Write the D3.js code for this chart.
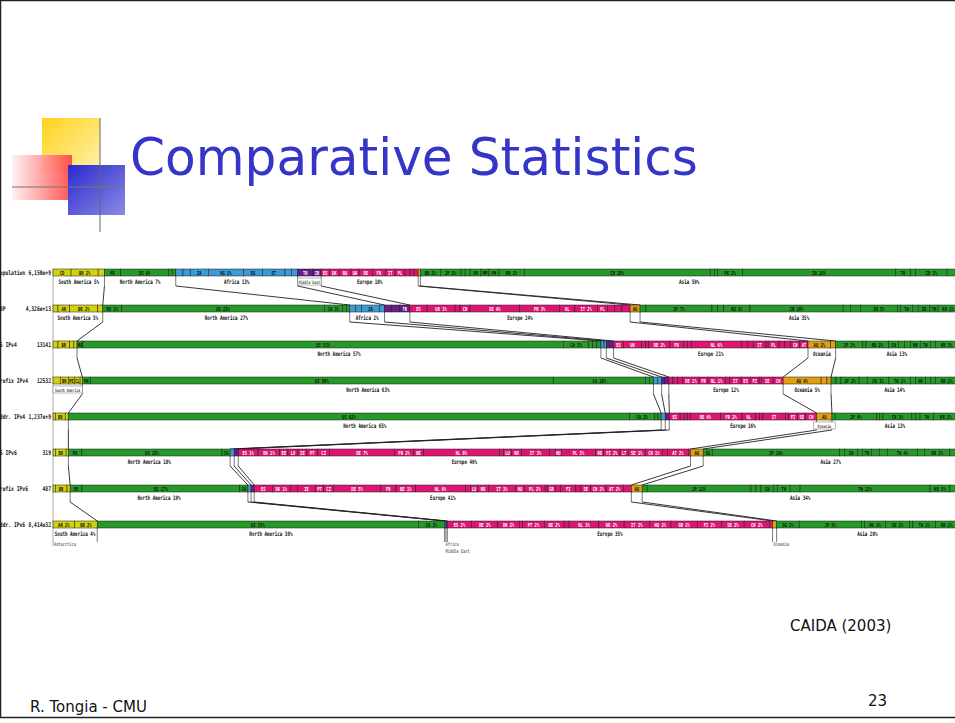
<!DOCTYPE html>
<html><head><meta charset="utf-8">
<script src="https://cdn.jsdelivr.net/npm/d3@7"></script>
<style>body{margin:0;background:#fff;overflow:hidden}</style>
</head><body>
<script>
var rowNames = ['Population', 'GDP', 'AS IPv4', 'Prefix IPv4', 'Addr. IPv4', 'AS IPv6', 'Prefix IPv6', 'Addr. IPv6'];
var rowTotals = ['6,150e+9', '4,326e+13', '13141', '12532', '1,237e+9', '319', '487', '8,414e32'];

var regionOrder = ['SA', 'NA', 'AF', 'ME', 'EU', 'OC', 'AS'];
var regionColors = {SA: '#d2d20c', NA: '#269a28', AF: '#3b9bd3', ME: '#6a1b8a', EU: '#de1673', OC: '#e0a010', AS: '#269a28'};

// [country label, share %, region]
var popSegs = [
  ['CO',2.0,'SA'],['BR 2%',3.0,'SA'],['',0.7,'SA'],
  ['MX',1.8,'NA'],['US 4%',5.3,'NA'],['',0.4,'NA'],['',0.4,'NA'],
  ['',0.8,'AF'],['',0.8,'AF'],['ZA',2.0,'AF'],['NG 2%',3.9,'AF'],['EG',2.1,'AF'],['ET',2.5,'AF'],['',0.7,'AF'],['',0.7,'AF'],
  ['TR',1.7,'ME'],['IR',0.9,'ME'],
  ['ES',0.9,'EU'],['UK',1.1,'EU'],['RU',1.3,'EU'],['UA',0.9,'EU'],['DE',1.5,'EU'],['FR',1.4,'EU'],['IT',1.1,'EU'],['PL',1.1,'EU'],['',0.55,'EU'],['',0.45,'EU'],['',0.45,'EU'],
  ['',0.25,'OC'],
  ['BD 2%',2.2,'AS'],['JP 2%',2.3,'AS'],['',0.45,'AS'],['',0.55,'AS'],['VN',1.2,'AS'],['MM',0.9,'AS'],['PH',1.1,'AS'],['KR 2%',2.8,'AS'],['CN 20%',20.6,'AS'],['',0.45,'AS'],['',0.35,'AS'],['PK 2%',2.8,'AS'],['IN 16%',16.9,'AS'],['TH',1.7,'AS'],['',0.55,'AS'],['ID 3%',3.5,'AS'],['',1.2,'AS']
];
var gdpSegs = [
  ['',0.55,'SA'],['AR',1.3,'SA'],['BR 2%',3.1,'SA'],['',0.55,'SA'],
  ['MX 2%',2.1,'NA'],['US 23%',22.4,'NA'],['CA 3%',2.0,'NA'],['',0.45,'NA'],['',0.35,'NA'],
  ['',0.65,'AF'],['',0.65,'AF'],['ZA',2.0,'AF'],['',0.55,'AF'],
  ['',0.8,'ME'],['',0.9,'ME'],['TR',1.1,'ME'],
  ['ES',1.9,'EU'],['UK 3%',3.1,'EU'],['',0.55,'EU'],['CH',1.1,'EU'],['DE 4%',5.5,'EU'],['FR 3%',4.4,'EU'],['NL',1.7,'EU'],['IT 2%',2.5,'EU'],['PL',1.1,'EU'],['',0.8,'EU'],['',0.8,'EU'],['',0.9,'EU'],
  ['AU',1.1,'OC'],
  ['',0.65,'AS'],['JP 7%',7.3,'AS'],['',0.65,'AS'],['',0.65,'AS'],['RU 2%',2.9,'AS'],['CN 10%',10.3,'AS'],['',0.8,'AS'],['',1.1,'AS'],['IN 5%',4.1,'AS'],['',0.35,'AS'],['TW',1.3,'AS'],['',0.65,'AS'],['ID',1.3,'AS'],['TH',0.9,'AS'],['KR 1%',2.2,'AS']
];
var asv4Segs = [
  ['',0.55,'SA'],['BR',1.3,'SA'],['',0.45,'SA'],['',0.35,'SA'],
  ['MX',0.65,'NA'],['US 53%',53.0,'NA'],['CA 3%',2.8,'NA'],['',0.45,'NA'],['',0.45,'NA'],['',0.45,'NA'],
  ['',0.35,'AF'],['',0.25,'AF'],
  ['',0.35,'ME'],['',0.45,'ME'],
  ['ES',1.1,'EU'],['UK',2.0,'EU'],['',0.45,'EU'],['',0.35,'EU'],['DE 2%',2.3,'EU'],['FR',1.5,'EU'],['',0.45,'EU'],['',0.45,'EU'],['NL 6%',5.5,'EU'],['',0.65,'EU'],['',0.65,'EU'],['IT',1.4,'EU'],['',0.25,'EU'],['PL',1.2,'EU'],['',0.65,'EU'],['',0.65,'EU'],['CH',1.0,'EU'],['AT',0.9,'EU'],
  ['AU 2%',2.5,'OC'],['',0.55,'OC'],
  ['JP 2%',3.0,'AS'],['',0.35,'AS'],['RU 2%',2.5,'AS'],['CN',1.1,'AS'],['',0.65,'AS'],['',0.65,'AS'],['HK',1.1,'AS'],['TW',1.1,'AS'],['',0.55,'AS'],['KR 3%',2.5,'AS']
];
var pfxv4Segs = [
  ['',0.8,'SA'],['BR',0.9,'SA'],['PE',0.65,'SA'],['CL',0.65,'SA'],['',0.25,'SA'],
  ['MX',0.9,'NA'],['US 50%',51.2,'NA'],['CA 10%',10.2,'NA'],['',0.45,'NA'],['',0.45,'NA'],
  ['',0.45,'AF'],['',0.45,'AF'],
  ['',0.35,'ME'],['',0.45,'ME'],
  ['',0.45,'EU'],['',0.55,'EU'],['',0.55,'EU'],['DE 1%',1.8,'EU'],['FR',1.0,'EU'],['NL 1%',1.9,'EU'],['',0.45,'EU'],['IT',1.3,'EU'],['ES',1.0,'EU'],['FI',1.0,'EU'],['',0.25,'EU'],['SE',1.3,'EU'],['CH',1.1,'EU'],
  ['AU 4%',4.2,'OC'],['',0.65,'OC'],['',0.45,'OC'],
  ['',0.55,'AS'],['',0.55,'AS'],['JP 2%',2.0,'AS'],['',0.9,'AS'],['CN 1%',2.4,'AS'],['TW 1%',2.4,'AS'],['',0.55,'AS'],['HK',1.1,'AS'],['',0.55,'AS'],['',0.55,'AS'],['KR 2%',2.5,'AS']
];
var addrv4Segs = [
  ['',0.25,'SA'],['BR',1.1,'SA'],['',0.35,'SA'],
  ['US 62%',62.1,'NA'],['CA 2%',2.8,'NA'],['',0.35,'NA'],['',0.35,'NA'],
  ['',0.45,'AF'],
  ['',0.45,'ME'],
  ['ES',1.2,'EU'],['',0.45,'EU'],['',0.35,'EU'],['',0.35,'EU'],['DE 4%',3.3,'EU'],['FR 2%',2.4,'EU'],['NL',1.5,'EU'],['',0.45,'EU'],['',0.35,'EU'],['IT',2.5,'EU'],['',0.35,'EU'],['FI',1.0,'EU'],['SE',0.9,'EU'],['CH',1.2,'EU'],
  ['AU',1.7,'OC'],
  ['',0.35,'AS'],['JP 4%',4.6,'AS'],['',0.35,'AS'],['',0.35,'AS'],['CN 3%',3.2,'AS'],['',0.45,'AS'],['',0.45,'AS'],['TW',1.5,'AS'],['KR 2%',2.7,'AS']
];
var asv6Segs = [
  ['',0.25,'SA'],['BR',1.2,'SA'],['',0.25,'SA'],
  ['MX',1.5,'NA'],['US 15%',15.5,'NA'],['CA',0.9,'NA'],
  ['',0.45,'AF'],
  ['',0.45,'ME'],
  ['ES 1%',2.2,'EU'],['DK 1%',2.4,'EU'],['EE',0.9,'EU'],['LV',1.1,'EU'],['IE',1.0,'EU'],['PT',1.2,'EU'],['CZ',1.3,'EU'],['DE 7%',7.2,'EU'],['FR 2%',2.1,'EU'],['BE',1.1,'EU'],['NL 8%',8.4,'EU'],['',0.45,'EU'],['LU',0.9,'EU'],['NO',1.1,'EU'],['IT 3%',3.1,'EU'],['',0.65,'EU'],['HU',0.65,'EU'],['PL 3%',3.8,'EU'],['RO',0.9,'EU'],['FI 2%',1.8,'EU'],['LT',0.9,'EU'],['SE 1%',1.9,'EU'],['CH 1%',1.9,'EU'],['',0.55,'EU'],['AT 2%',2.3,'EU'],['',0.25,'EU'],
  ['AU',1.4,'OC'],
  ['SG',1.0,'AS'],['JP 14%',14.1,'AS'],['',0.55,'AS'],['CN',1.4,'AS'],['',0.55,'AS'],['TH',1.0,'AS'],['',0.9,'AS'],['',0.9,'AS'],['TW 4%',3.3,'AS'],['',0.8,'AS'],['KR 3%',2.8,'AS'],['',0.9,'AS']
];
var pfxv6Segs = [
  ['',0.25,'SA'],['BR',1.3,'SA'],['',0.35,'SA'],
  ['MX',1.3,'NA'],['US 17%',17.5,'NA'],['CA',0.9,'NA'],
  ['',0.35,'AF'],
  ['',0.35,'ME'],
  ['ES',2.0,'EU'],['DK 1%',2.0,'EU'],['',0.8,'EU'],['IE',2.0,'EU'],['PT',0.9,'EU'],['CZ',1.1,'EU'],['DE 5%',5.2,'EU'],['FR',1.7,'EU'],['BE 1%',2.2,'EU'],['NL 6%',5.5,'EU'],['',0.55,'EU'],['LU',0.8,'EU'],['NO',1.2,'EU'],['IT 3%',3.0,'EU'],['HU',1.0,'EU'],['PL 2%',2.3,'EU'],['',0.25,'EU'],['GR',0.9,'EU'],['',0.55,'EU'],['FI',1.7,'EU'],['',0.55,'EU'],['SE',1.1,'EU'],['CH 2%',1.7,'EU'],['AT 2%',1.9,'EU'],['',0.9,'EU'],
  ['AU',1.2,'OC'],
  ['',0.55,'AS'],['JP 12%',11.5,'AS'],['',0.55,'AS'],['',0.55,'AS'],['CN',1.4,'AS'],['',0.45,'AS'],['TH',1.4,'AS'],['',1.1,'AS'],['TW 13%',14.4,'AS'],['KR 3%',2.2,'AS'],['',0.9,'AS']
];
var addrv6Segs = [
  ['AR 2%',2.4,'SA'],['BR 2%',2.5,'SA'],
  ['US 35%',35.6,'NA'],['CA 2%',2.9,'NA'],
  ['',0.15,'AF'],
  ['',0.15,'ME'],
  ['ES 2%',2.7,'EU'],['DE 2%',2.9,'EU'],['DK 2%',2.4,'EU'],['',0.35,'EU'],['PT 2%',2.4,'EU'],['BE 2%',2.2,'EU'],['',0.55,'EU'],['NL 3%',3.3,'EU'],['NO 2%',2.8,'EU'],['IT 2%',2.8,'EU'],['HU 2%',2.4,'EU'],['GR 2%',2.9,'EU'],['FI 2%',2.7,'EU'],['SE 2%',2.5,'EU'],['CH 2%',2.8,'EU'],['',0.35,'EU'],
  ['',0.45,'OC'],
  ['SG 2%',2.5,'AS'],['JP 6%',6.9,'AS'],['',0.35,'AS'],['HK 2%',2.3,'AS'],['CN 2%',2.7,'AS'],['',0.35,'AS'],['TW 2%',2.5,'AS'],['KR 2%',2.5,'AS']
];
var rowSegs = [popSegs, gdpSegs, asv4Segs, pfxv4Segs, addrv4Segs, asv6Segs, pfxv6Segs, addrv6Segs];

// region totals written under each bar
var regionLabels = [
  {SA: 'South America 5%', NA: 'North America 7%', AF: 'Africa 13%', EU: 'Europe 10%', AS: 'Asia 59%'},
  {SA: 'South America 5%', NA: 'North America 27%', AF: 'Africa 2%', EU: 'Europe 24%', AS: 'Asia 35%'},
  {NA: 'North America 57%', EU: 'Europe 21%', OC: 'Oceania', AS: 'Asia 13%'},
  {NA: 'North America 63%', EU: 'Europe 12%', OC: 'Oceania 5%', AS: 'Asia 14%'},
  {NA: 'North America 65%', EU: 'Europe 16%', AS: 'Asia 13%'},
  {NA: 'North America 18%', EU: 'Europe 49%', AS: 'Asia 27%'},
  {NA: 'North America 19%', EU: 'Europe 41%', AS: 'Asia 34%'},
  {SA: 'South America 4%', NA: 'North America 38%', EU: 'Europe 35%', AS: 'Asia 20%'}
];
// small boxed notes: [row, region, text]
var boxedNotes = [[0, 'ME', 'Middle East'], [3, 'SA', 'South America'], [4, 'OC', 'Oceania']];
// small notes hanging below the last row: [row, region, text, line]
var hangNotes = [[7, 'SA', 'Antarctica', 0], [7, 'AF', 'Africa', 0], [7, 'AF', 'Middle East', 1], [7, 'OC', 'Oceania', 0]];

var W = 955, H = 723;
var svg = d3.select('body').append('svg').attr('width', W).attr('height', H);

// slide frame
svg.append('rect').attr('x', 0.5).attr('y', 0.5).attr('width', W + 5).attr('height', 717)
  .attr('fill', 'none').attr('stroke', '#222').attr('stroke-width', 1.5);

// title decoration
var defs = svg.append('defs');
function grad(id, c1, c2, x2, y2) {
  var g = defs.append('linearGradient').attr('id', id).attr('x1', 0).attr('y1', 0).attr('x2', x2).attr('y2', y2);
  g.append('stop').attr('offset', 0).attr('stop-color', c1);
  g.append('stop').attr('offset', 1).attr('stop-color', c2);
}
grad('gy', '#ffd21a', '#fff1b0', 1, 1);
grad('gr', '#fff0f0', '#ff4040', 1, 0);
grad('gb', '#2a2acc', '#8a8ae6', 1, 1);
svg.append('rect').attr('x', 42).attr('y', 118).attr('width', 58).attr('height', 54).attr('fill', 'url(#gy)');
svg.append('rect').attr('x', 12).attr('y', 155).attr('width', 60).attr('height', 45).attr('fill', 'url(#gr)').attr('opacity', 0.9);
svg.append('rect').attr('x', 68).attr('y', 165).attr('width', 57).attr('height', 50).attr('fill', 'url(#gb)');
svg.append('line').attr('x1', 100).attr('y1', 118).attr('x2', 100).attr('y2', 232).attr('stroke', '#666').attr('stroke-width', 1);
svg.append('line').attr('x1', 12).attr('y1', 187).attr('x2', 125).attr('y2', 187).attr('stroke', '#777').attr('stroke-width', 1);

svg.append('text').attr('x', 130).attr('y', 175).attr('font-family', 'DejaVu Sans, Verdana, sans-serif')
  .attr('font-size', 52).attr('fill', '#3535c8').attr('textLength', 568).attr('lengthAdjust', 'spacingAndGlyphs')
  .text('Comparative Statistics');

function slideText(x, y, s, anchor) {
  svg.append('text').attr('x', x).attr('y', y).attr('font-family', 'DejaVu Sans, Verdana, sans-serif')
    .attr('font-size', 15).attr('fill', '#111').attr('text-anchor', anchor || 'start').text(s);
}
slideText(790, 631, 'CAIDA (2003)');
slideText(30, 712, 'R. Tongia - CMU');
slideText(868, 706, '23');

// tiny pixel-ish text, narrowed horizontally
function tiny(g, x, y, s, size, sx, anchor, color) {
  g.append('text')
    .attr('transform', 'translate(' + x + ',' + y + ') scale(' + sx + ',1)')
    .attr('font-family', 'DejaVu Sans Mono, monospace').attr('font-size', size)
    .attr('font-weight', 'bold').attr('text-anchor', anchor).attr('fill', color).text(s);
}

var barH = 7, drop = 10;
var y = d3.scalePoint().domain(rowNames).range([269, 521]);
var chart = svg.append('g');

// layout every row through its own linear scale
var rows = rowSegs.map(function(segs, i) {
  var total = d3.sum(segs, function(d) { return d[1]; });
  var x = d3.scaleLinear().domain([0, total]).range([53, 958]);
  var acc = 0;
  var items = segs.map(function(d) {
    var it = {label: d[0], v: d[1], region: d[2], x0: x(acc), x1: x(acc + d[1])};
    acc += d[1];
    return it;
  });
  var bounds = {};
  regionOrder.forEach(function(r) {
    var s = items.filter(function(d) { return d.region === r; });
    if (s.length) bounds[r] = [s[0].x0, s[s.length - 1].x1];
  });
  return {name: rowNames[i], top: y(rowNames[i]), items: items, bounds: bounds};
});

// left gray rail
chart.append('line').attr('x1', 53).attr('x2', 53).attr('y1', rows[0].top).attr('y2', rows[7].top + barH + 18)
  .attr('stroke', '#aaa').attr('stroke-width', 1);

// connecting lines between region boundaries
rows.forEach(function(r, i) {
  regionOrder.slice(1).forEach(function(reg) {
    var bx = r.bounds[reg][0];
    var d = (i === 7) ? 14 : drop;
    chart.append('line').attr('x1', bx).attr('x2', bx).attr('y1', r.top + barH).attr('y2', r.top + barH + d)
      .attr('stroke', '#555').attr('stroke-width', 0.8);
    if (i < 7) {
      var nx = rows[i + 1].bounds[reg][0];
      chart.append('line').attr('x1', bx).attr('y1', r.top + barH + drop).attr('x2', nx).attr('y2', rows[i + 1].top)
        .attr('stroke', '#222').attr('stroke-width', 0.9);
    }
  });
});

rows.forEach(function(r, i) {
  var g = chart.append('g');
  g.selectAll('rect').data(r.items).enter().append('rect')
    .attr('x', function(d) { return d.x0; }).attr('y', r.top)
    .attr('width', function(d) { return Math.max(0.3, d.x1 - d.x0); }).attr('height', barH)
    .attr('fill', function(d) { return regionColors[d.region]; })
    .attr('stroke', '#1a1a1a').attr('stroke-width', 0.5);
  r.items.forEach(function(d) {
    if (!d.label) return;
    var light = d.region === 'EU' || d.region === 'ME';
    tiny(g, (d.x0 + d.x1) / 2, r.top + 5.6, d.label, 5.6, 0.68, 'middle', light ? '#fff' : '#111');
  });
  tiny(g, -3, r.top + 5.5, r.name, 6.5, 0.72, 'start', '#111');
  tiny(g, 51, r.top + 5.5, rowTotals[i], 6.5, 0.72, 'end', '#111');
  var labs = regionLabels[i];
  Object.keys(labs).forEach(function(reg) {
    var b = r.bounds[reg];
    tiny(g, (b[0] + b[1]) / 2, r.top + barH + 8, labs[reg], 6.2, 0.68, 'middle', '#111');
  });
});

boxedNotes.forEach(function(n) {
  var r = rows[n[0]], b = r.bounds[n[1]];
  var cx = (b[0] + b[1]) / 2, w = Math.max(b[1] - b[0], 22);
  chart.append('rect').attr('x', cx - w / 2).attr('y', r.top + barH + 2).attr('width', w).attr('height', 7)
    .attr('fill', '#fff').attr('stroke', '#888').attr('stroke-width', 0.6);
  tiny(chart, cx, r.top + barH + 7.5, n[2], 4.6, 0.7, 'middle', '#555');
});

hangNotes.forEach(function(n) {
  var r = rows[n[0]], b = r.bounds[n[1]];
  tiny(chart, b[0] + 1, r.top + barH + 18 + n[3] * 7, n[2], 5.2, 0.7, 'start', '#777');
});
</script>
</body></html>
